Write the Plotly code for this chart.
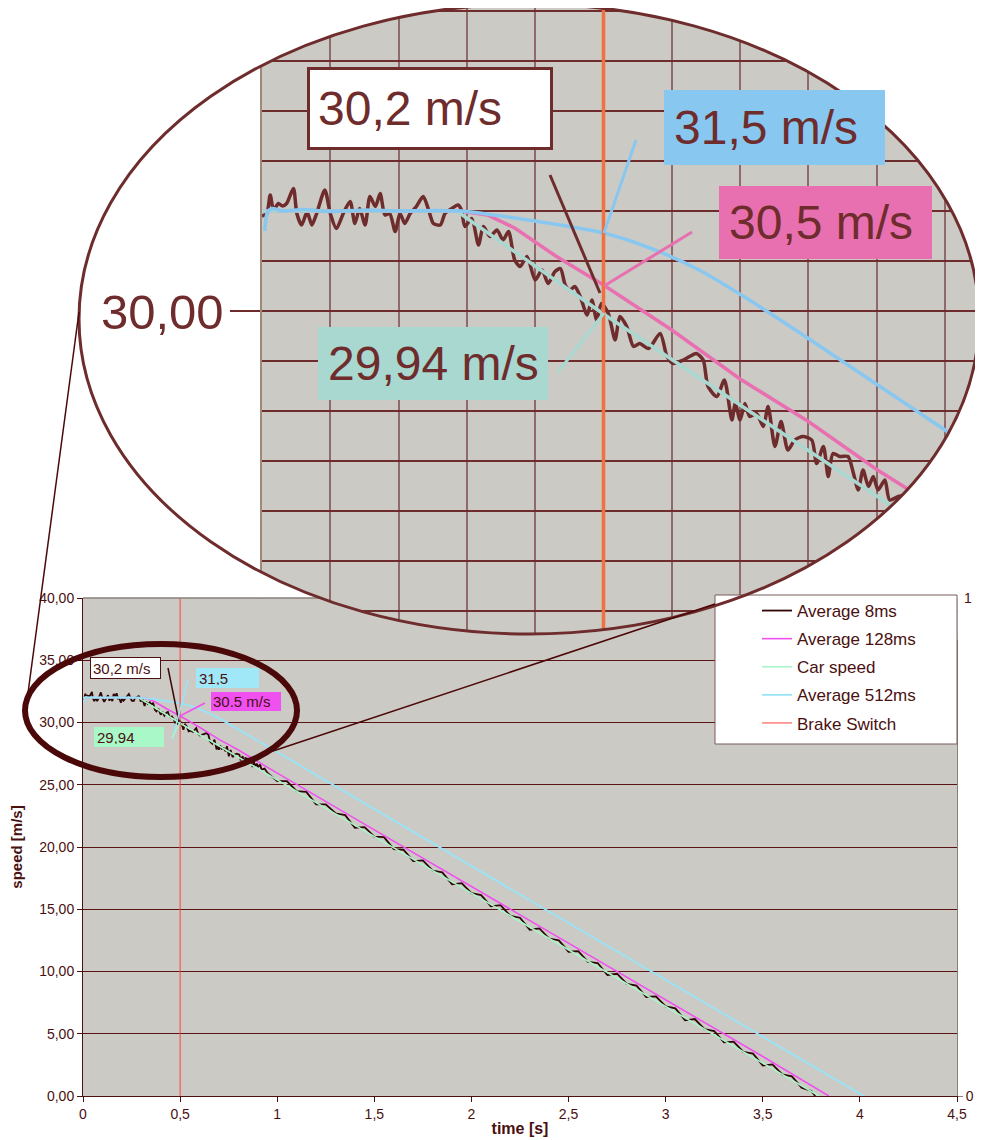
import numpy as np
import plotly.graph_objects as go

W, H = 983, 1140
OFF = 8                       # page offset of the plot div
FW, FH = W - OFF, H - OFF      # figure size

# ---------------- data ----------------
t_avg8 = [0.000, 0.007, 0.012, 0.017, 0.024, 0.030, 0.036, 0.046, 0.051, 0.058,
          0.066, 0.073, 0.080, 0.092, 0.100, 0.109, 0.119, 0.129, 0.136, 0.143,
          0.151, 0.158, 0.166, 0.173, 0.180, 0.187, 0.195, 0.202, 0.209, 0.217,
          0.226, 0.236, 0.244, 0.251, 0.261, 0.268, 0.278, 0.287, 0.292, 0.297,
          0.307, 0.317, 0.324, 0.334, 0.344, 0.353, 0.361, 0.370, 0.378, 0.388,
          0.400, 0.410, 0.419, 0.429, 0.437, 0.444, 0.451, 0.458, 0.466, 0.476,
          0.483, 0.490, 0.497, 0.507, 0.517, 0.524, 0.534, 0.544, 0.553, 0.566,
          0.583, 0.593, 0.602, 0.617, 0.626, 0.636, 0.646, 0.653, 0.666, 0.677,
          0.688, 0.693, 0.700, 0.707, 0.714, 0.724, 0.734, 0.741, 0.751, 0.760,
          0.770, 0.780, 0.792, 0.805, 0.812, 0.822, 0.829, 0.836, 0.846, 0.858,
          0.866, 0.873, 0.880, 0.888, 0.895, 0.902, 0.912, 0.919, 0.935, 0.950,
          1.00, 1.05, 1.10, 1.15, 1.20, 1.25, 1.30, 1.35, 1.40, 1.45,
          1.50, 1.55, 1.60, 1.65, 1.70, 1.75, 1.80, 1.85, 1.90, 1.95,
          2.00, 2.05, 2.10, 2.15, 2.20, 2.25, 2.30, 2.35, 2.40, 2.45,
          2.50, 2.55, 2.60, 2.65, 2.70, 2.75, 2.80, 2.85, 2.90, 2.95,
          3.00, 3.05, 3.10, 3.15, 3.20, 3.25, 3.30, 3.35, 3.40, 3.45,
          3.50, 3.55, 3.60, 3.65, 3.70, 3.75, 3.77]
v_avg8 = [31.90, 31.95, 32.32, 32.02, 32.15, 32.10, 32.15, 32.45, 31.95, 31.72,
          31.98, 31.72, 31.95, 32.42, 31.95, 31.65, 31.95, 32.19, 31.75, 32.05,
          31.72, 32.29, 32.09, 32.35, 31.92, 31.95, 31.59, 31.95, 31.75, 31.95,
          32.09, 32.29, 32.02, 31.75, 31.72, 31.95, 32.05, 32.12, 32.02, 31.69,
          31.85, 31.32, 31.69, 31.49, 31.62, 31.42, 31.59, 31.02, 30.89, 31.09,
          30.62, 30.82, 30.55, 30.79, 30.85, 30.52, 30.42, 30.49, 30.29, 29.92,
          30.22, 29.82, 30.15, 29.95, 29.42, 29.89, 29.69, 29.29, 29.35, 29.25,
          29.55, 29.09, 28.95, 29.02, 29.09, 29.15, 29.02, 28.49, 28.29, 28.62,
          27.82, 28.15, 27.82, 28.15, 27.89, 27.95, 27.69, 28.09, 27.29, 27.79,
          27.22, 27.42, 27.49, 27.42, 26.95, 27.29, 26.69, 27.15, 27.09, 27.09,
          26.75, 26.42, 26.82, 26.49, 26.69, 26.42, 26.62, 26.22, 26.30, 25.95,
          25.29, 25.29, 24.48, 24.43, 23.42, 23.42, 22.71, 22.56, 21.55, 21.60,
          20.84, 20.79, 19.83, 19.78, 18.87, 18.92, 18.11, 17.96, 17.00, 17.10,
          16.29, 16.14, 15.23, 15.33, 14.47, 14.32, 13.36, 13.46, 12.65, 12.50,
          11.59, 11.64, 10.78, 10.68, 9.72, 9.82, 9.01, 8.86, 7.95, 8.00,
          7.19, 7.04, 6.08, 6.18, 5.37, 5.22, 4.31, 4.36, 3.55, 3.40,
          2.44, 2.54, 1.73, 1.58, 0.67, 0.40, 0.00]

t_avg128 = [0.0, 0.29, 0.33, 0.37, 0.43, 0.5, 0.6, 0.7, 0.8, 0.9, 0.95,
            1.5, 2.0, 2.5, 3.0, 3.5, 3.84]
v_avg128 = [32.0, 32.0, 31.92, 31.66, 31.1, 30.52, 29.62, 28.64, 27.79, 26.83, 26.40,
            21.38, 16.82, 12.25, 7.72, 3.17, 0.0]

t_car = [0.0, 0.285, 0.5, 3.79]
v_car = [32.0, 32.0, 29.94, 0.0]

t_avg512 = [0.004, 0.008, 0.015, 0.03, 0.06, 0.10, 0.15, 0.20, 0.25, 0.29,
            0.37, 0.5, 0.57, 0.64, 0.71, 0.8, 4.02]
v_avg512 = [31.60, 31.98, 32.05, 32.0, 32.03, 31.99, 32.02, 32.0, 32.01, 32.0,
            31.86, 31.56, 31.25, 30.82, 30.25, 29.45, 0.0]

t_brake = [0.5, 0.5]
v_brake = [0, 1]

x_ticks = [0, 0.5, 1, 1.5, 2, 2.5, 3, 3.5, 4, 4.5]
y_ticks = [0, 5, 10, 15, 20, 25, 30, 35, 40]
y2_ticks = [0, 1]

# ---------------- helpers (screen pixel -> paper) ----------------
def X(px):
    return (px - OFF) / FW


def Y(py):
    return 1 - (py - OFF) / FH


EX, EY, EA, EB = 529.0, 319.0, 450.0, 315.0   # big ellipse (pixels)
INSET_TOP = 8                                 # top pixel of inset domain


def ellipse_pts(n=360):
    th = np.linspace(0, 2 * np.pi, n, endpoint=False)
    return [(EX + EA * np.cos(a), EY + EB * np.sin(a)) for a in th]


def clip_poly(pts, x0, x1, y0, y1):
    def edge(p_list, inside, inter):
        out = []
        n = len(p_list)
        for i in range(n):
            cur, prev = p_list[i], p_list[i - 1]
            if inside(cur):
                if not inside(prev):
                    out.append(inter(prev, cur))
                out.append(cur)
            elif inside(prev):
                out.append(inter(prev, cur))
        return out

    def ix(xc):
        return lambda p, q: (xc, p[1] + (q[1] - p[1]) * (xc - p[0]) / (q[0] - p[0]))

    def iy(yc):
        return lambda p, q: (p[0] + (q[0] - p[0]) * (yc - p[1]) / (q[1] - p[1]), yc)

    for inside, inter in [(lambda p: p[0] >= x0, ix(x0)), (lambda p: p[0] <= x1, ix(x1)),
                          (lambda p: p[1] >= y0, iy(y0)), (lambda p: p[1] <= y1, iy(y1))]:
        if not pts:
            return pts
        pts = edge(pts, inside, inter)
    return pts


def area(pts):
    s = 0
    for i in range(len(pts)):
        x1, y1 = pts[i - 1]
        x2, y2 = pts[i]
        s += x1 * y2 - x2 * y1
    return s / 2


def to_path(pts):
    return "M" + "L".join(f"{X(x):.5f},{Y(y):.5f}" for x, y in pts) + "Z"


def mask_path(x0, x1, y0, y1):
    rect = [(x0, y0), (x1, y0), (x1, y1), (x0, y1)]
    inner = clip_poly(ellipse_pts(), x0, x1, y0, y1)
    if inner and (area(inner) > 0) == (area(rect) > 0):
        inner = inner[::-1]
    p = to_path(rect)
    if len(inner) > 2:
        p += to_path(inner)
    return p


def ellipse_x_at(py):
    d = max(1 - ((py - EY) / EB) ** 2, 0)
    return EX - EA * np.sqrt(d), EX + EA * np.sqrt(d)


# ---------------- styling ----------------
FONT = "Liberation Sans, Arial, sans-serif"
TXT = "#4a1010"
TXT_IN = "#6e2c2c"
MAIN_BG = "#cccac5"
INSET_BG = "#c8c0bc"

fig = go.Figure()

main_styles = [
    ("Average 8ms", t_avg8, v_avg8, "#2e0606", 1.8),
    ("Average 128ms", t_avg128, v_avg128, "#f050f0", 1.6),
    ("Car speed", t_car, v_car, "#a8f5c8", 1.6),
    ("Average 512ms", t_avg512, v_avg512, "#98e4f8", 1.8),
]
for i, (name, tx, vy, col, w) in enumerate(main_styles):
    fig.add_trace(go.Scatter(x=tx, y=vy, mode="lines", name=name,
                             line=dict(color=col, width=w),
                             legendgroup=f"g{i}", xaxis="x", yaxis="y"))
fig.add_trace(go.Scatter(x=t_brake, y=v_brake, mode="lines", name="Brake Switch",
                         line=dict(color="#ff4040", width=1),
                         legendgroup="g4", xaxis="x", yaxis="y2"))

inset_styles = [
    (t_avg8, v_avg8, "#6e2c2c", 3.5, "spline"),
    (t_avg128, v_avg128, "#e870b0", 3.5, "linear"),
    (t_car, v_car, "#a8d8d0", 3.5, "linear"),
    (t_avg512, v_avg512, "#88c8f0", 3.5, "spline"),
]
for tx, vy, col, w, shp in inset_styles:
    fig.add_trace(go.Scatter(x=tx, y=vy, mode="lines", showlegend=False,
                             line=dict(color=col, width=w, shape=shp, smoothing=0.7),
                             hoverinfo="skip", xaxis="x3", yaxis="y3"))
fig.add_trace(go.Scatter(x=t_brake, y=v_brake, mode="lines", showlegend=False,
                         line=dict(color="#f07040", width=3.5), hoverinfo="skip",
                         xaxis="x3", yaxis="y4"))

# ---------------- shapes ----------------
shapes = []
shapes.append(dict(type="rect", xref="x3 domain", yref="y3 domain", x0=0, x1=1, y0=0, y1=1,
                   fillcolor=INSET_BG, line=dict(width=0), layer="below"))
shapes.append(dict(type="path", xref="paper", yref="paper", path=mask_path(258, 983, 0, 598),
                   fillcolor="white", line=dict(width=0), layer="above"))
shapes.append(dict(type="rect", xref="paper", yref="paper", x0=X(957.5), x1=X(983), y0=Y(640), y1=Y(597),
                   fillcolor="white", line=dict(width=0), layer="above"))
shapes.append(dict(type="path", xref="paper", yref="paper", path=mask_path(258, 957.5, 598.5, 640),
                   fillcolor=MAIN_BG, line=dict(width=0), layer="above"))
exl, exr = ellipse_x_at(598)
for a, b in [(83, exl), (exr, 957)]:
    shapes.append(dict(type="line", xref="paper", yref="paper", x0=X(a), x1=X(b), y0=Y(598), y1=Y(598),
                       line=dict(color="#8a7f7a", width=1.5), layer="above"))
shapes.append(dict(type="rect", xref="paper", yref="paper", x0=X(715), x1=X(957), y0=Y(744), y1=Y(595),
                   fillcolor="white", line=dict(color="#7a5a5a", width=1), layer="above"))
shapes.append(dict(type="line", xref="paper", yref="paper", x0=X(230), x1=X(260), y0=Y(311), y1=Y(311),
                   line=dict(color=TXT_IN, width=2), layer="above"))
for (x0, y0, x1, y1, col) in [(550, 175, 600, 293, "#6e2c2c"), (636, 140, 604, 233, "#88c8f0"),
                              (692, 232, 604, 286, "#e870b0"), (558, 372, 604, 313, "#a8d8d0")]:
    shapes.append(dict(type="line", xref="paper", yref="paper", x0=X(x0), x1=X(x1), y0=Y(y0), y1=Y(y1),
                       line=dict(color=col, width=3), layer="above"))
for (x0, y0, x1, y1, col) in [(168, 668, 179, 722, "#3c0808"), (188, 680, 172, 740, "#98e4f8"),
                              (205, 703, 180, 716, "#f050f0"), (172, 738, 180, 722, "#a8f5c8")]:
    shapes.append(dict(type="line", xref="paper", yref="paper", x0=X(x0), x1=X(x1), y0=Y(y0), y1=Y(y1),
                       line=dict(color=col, width=1.5), layer="above"))
shapes.append(dict(type="circle", xref="paper", yref="paper", x0=X(EX - EA), x1=X(EX + EA),
                   y0=Y(EY + EB), y1=Y(EY - EB), line=dict(color=TXT_IN, width=3), layer="above"))
shapes.append(dict(type="circle", xref="paper", yref="paper", x0=X(25), x1=X(297), y0=Y(777), y1=Y(644),
                   line=dict(color="#4a0808", width=6), layer="above"))
for (x0, y0, x1, y1) in [(28, 693, 79, 312), (267, 753, 715, 604)]:
    shapes.append(dict(type="line", xref="paper", yref="paper", x0=X(x0), x1=X(x1), y0=Y(y0), y1=Y(y1),
                       line=dict(color="#4a0808", width=1.5), layer="above"))

# ---------------- annotations ----------------
ann = []


def box(text, x0, x1, y0, y1, bg, size, color, bw=0, bc=None, pad=8):
    ann.append(dict(text=text, xref="paper", yref="paper", x=X(x0), y=Y(y0), xanchor="left", yanchor="top",
                    showarrow=False, align="left", valign="middle",
                    width=(x1 - x0) - 2 * (pad + bw), height=(y1 - y0) - 2 * (pad + bw),
                    bgcolor=bg, borderwidth=bw, bordercolor=bc or bg, borderpad=pad,
                    font=dict(family=FONT, size=size, color=color)))


box("30,2 m/s", 307, 553, 67, 150, "white", 48, TXT_IN, bw=3, bc=TXT_IN, pad=8)
box("31,5 m/s", 664, 885, 90, 165, "#88c8f0", 48, TXT_IN, pad=10)
box("30,5 m/s", 719, 932, 186, 259, "#e870b0", 48, TXT_IN, pad=10)
box("29,94 m/s", 318, 548, 327, 400, "#a8d8d0", 48, TXT_IN, pad=10)
ann.append(dict(text="30,00", xref="paper", yref="paper", x=X(226), y=Y(312), xanchor="right",
                yanchor="middle", showarrow=False, font=dict(family=FONT, size=49, color=TXT_IN)))
box("30,2 m/s", 90, 161, 657, 679, "white", 15, TXT, bw=1, bc="#4a1010", pad=2)
box("31,5", 196, 259, 668, 688, "#a0e8f8", 15, TXT, pad=3)
box("30.5 m/s", 211, 281, 692, 711, "#f050f0", 15, TXT, pad=2)
box("29,94", 94, 164, 727, 747, "#a8f8c8", 15, TXT, pad=3)
ann.append(dict(text="1", xref="paper", yref="paper", x=X(962), y=Y(598), xanchor="left",
                yanchor="middle", showarrow=False, font=dict(family=FONT, size=14, color=TXT)))

axis_font = dict(family=FONT, size=14, color=TXT)

fig.update_layout(
    width=FW, height=FH,
    margin=dict(l=0, r=0, t=0, b=0),
    paper_bgcolor="white",
    plot_bgcolor=MAIN_BG,
    separators=",.",
    font=dict(family=FONT, color=TXT),
    showlegend=True,
    legend=dict(x=X(757), y=Y(593), xanchor="left", yanchor="top",
                bgcolor="rgba(0,0,0,0)", borderwidth=0,
                font=dict(family=FONT, size=17, color=TXT),
                tracegroupgap=3, itemwidth=30),
    xaxis=dict(domain=[X(83), X(957)], range=[0, 4.5], tickvals=x_ticks, ticks="outside",
               ticklen=5, tickcolor=TXT, showline=True, linecolor=TXT, linewidth=1,
               showgrid=False, zeroline=False, tickfont=axis_font, anchor="y", automargin=False,
               title=dict(text="<b>time [s]</b>", font=dict(family=FONT, size=16, color=TXT), standoff=2)),
    yaxis=dict(domain=[Y(1096), Y(598)], range=[0, 40], tickvals=y_ticks, tickformat=".2f",
               ticks="outside", ticklen=5, tickcolor=TXT, showline=True, linecolor=TXT,
               showgrid=True, gridcolor="#5a1414", gridwidth=1, zeroline=False,
               tickfont=axis_font, anchor="x", automargin=False,
               title=dict(text="<b>speed [m/s]</b>", font=dict(family=FONT, size=15, color=TXT), standoff=12)),
    yaxis2=dict(overlaying="y", side="right", anchor="x", range=[0, 1], tickvals=y2_ticks,
                ticktext=["0", ""], ticks="outside", ticklen=5, tickcolor="#8a7f7a",
                showline=True, linecolor="#8a7f7a", showgrid=False, zeroline=False,
                tickfont=axis_font, automargin=False),
    xaxis3=dict(domain=[X(262), X(979)], range=[0, 717 / 683], anchor="y3", dtick=0.1, tick0=0,
                showgrid=True, gridcolor="#8e6a6a", gridwidth=1.5, showticklabels=False,
                ticks="", zeroline=False, showline=False, automargin=False),
    yaxis3=dict(domain=[Y(634), Y(INSET_TOP)], range=[30 - 323 / 50, 30 + (311 - INSET_TOP) / 50],
                anchor="x3", dtick=1, tick0=0, showgrid=True, gridcolor="#6e2c2c", gridwidth=1.5,
                showticklabels=False, ticks="", zeroline=False, showline=True,
                linecolor="#a08878", linewidth=2, automargin=False),
    yaxis4=dict(overlaying="y3", anchor="x3", range=[0, 1], visible=False),
    shapes=shapes,
    annotations=ann,
)

fig.write_html("out.html")
